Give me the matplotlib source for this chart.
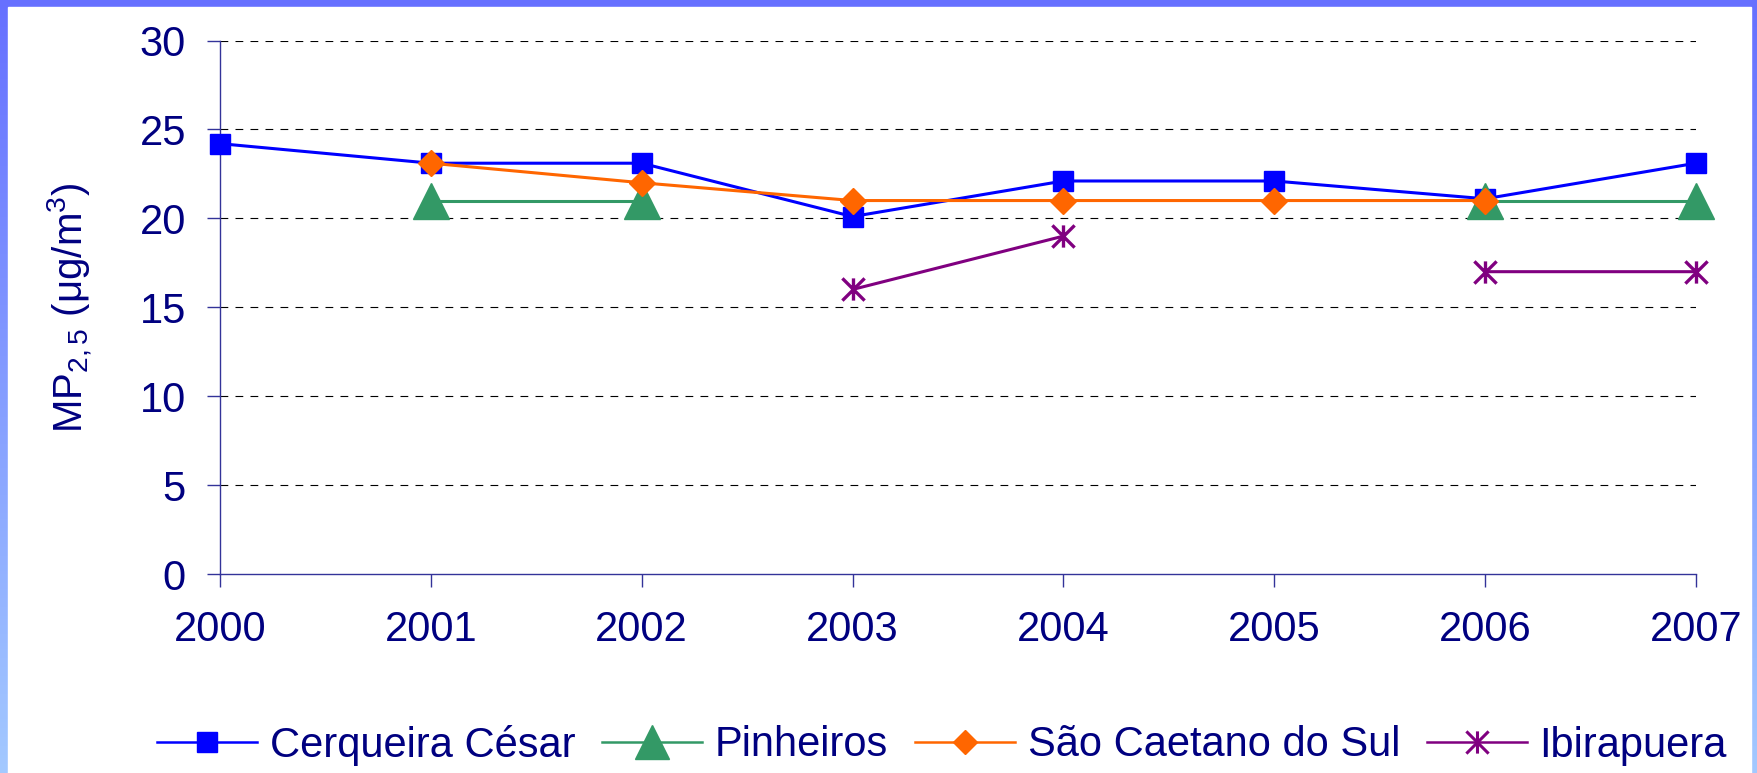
import numpy as np
import matplotlib
matplotlib.use("Agg")
import matplotlib.pyplot as plt
from matplotlib.colors import LinearSegmentedColormap
from matplotlib.patches import Rectangle
from matplotlib.path import Path
from matplotlib.lines import Line2D

plt.rcParams['font.family'] = ['Liberation Sans', 'DejaVu Sans']
plt.rcParams['mathtext.fontset'] = 'custom'
plt.rcParams['mathtext.rm'] = 'Liberation Sans'
plt.rcParams['mathtext.it'] = 'Liberation Sans'
plt.rcParams['mathtext.default'] = 'regular'

years = [2000, 2001, 2002, 2003, 2004, 2005, 2006, 2007]
nan = np.nan
cerqueira = [24.2, 23.1, 23.1, 20.1, 22.1, 22.1, 21.1, 23.1]
pinheiros = [nan, 21, 21, nan, nan, nan, 21, 21]
sao_caetano = [nan, 23.1, 22, 21, 21, 21, 21, nan]
ibirapuera = [nan, nan, nan, 16, 19, nan, 17, 17]
series_names = ["Cerqueira César", "Pinheiros", "São Caetano do Sul", "Ibirapuera"]
yticks = [0, 5, 10, 15, 20, 25, 30]

W, H = 1758, 773
fig = plt.figure(figsize=(W / 100, H / 100), dpi=100)

# background frame with gradient
bg = fig.add_axes([0, 0, 1, 1], zorder=-10)
cmap = LinearSegmentedColormap.from_list("frame", ["#6670FF", "#A3C9FF"])
grad = np.linspace(0, 1, 256).reshape(-1, 1)
bg.imshow(grad, aspect='auto', cmap=cmap, extent=[0, 1, 0, 1], origin='upper')
bg.add_patch(Rectangle((8 / W, 0), (1751 - 8) / W, 1 - 7 / H, color='white'))
bg.set_xlim(0, 1)
bg.set_ylim(0, 1)
bg.axis('off')

# Excel-style asterisk: vertical bar plus an X
star_path = Path([(0, -1), (0, 1), (-1, -1), (1, 1), (-1, 1), (1, -1)],
                 [Path.MOVETO, Path.LINETO, Path.MOVETO, Path.LINETO, Path.MOVETO, Path.LINETO])

navy = '#000080'
axcol = '#333399'
ax = fig.add_axes([220 / W, (H - 574) / H, (1696 - 220) / W, (574 - 40.5) / H])
ax.set_facecolor('none')

ax.set_xlim(2000, 2007)
ax.set_ylim(0, 30)
ax.set_yticks(yticks)
ax.set_xticks(years)
ax.set_xticklabels([str(y) for y in years])

for y in yticks[1:]:
    ax.axhline(y, color='black', lw=0.8, linestyle=(0, (7, 6.5)), zorder=1)

for s in ['top', 'right']:
    ax.spines[s].set_visible(False)
for s in ['left', 'bottom']:
    ax.spines[s].set_color(axcol)
    ax.spines[s].set_linewidth(1.0)

ax.tick_params(axis='both', colors=axcol, labelcolor=navy, labelsize=30, width=1.0)
ax.tick_params(axis='y', length=9.5, pad=15)
ax.tick_params(axis='x', length=9, pad=17)

lw = 2.2
ax.plot(years, cerqueira, color='#0000FF', lw=lw, marker='s', ms=14,
        clip_on=False, zorder=3)
ax.plot(years, pinheiros, color='#339966', lw=lw, marker='^', ms=26,
        clip_on=False, zorder=4)
ax.plot(years, sao_caetano, color='#FF6600', lw=lw, marker='D', ms=13,
        clip_on=False, zorder=5)
ax.plot(years, ibirapuera, color='#800080', lw=lw, marker=star_path, ms=16,
        mew=2.4, clip_on=False, zorder=6)

ax.set_ylabel(r'MP$_{2,5}$ ($\mu$g/m$^{3}$)', color=navy, fontsize=29)
ax.yaxis.set_label_coords(-0.085, 0.5)

handles = [
    Line2D([], [], color='#0000FF', lw=1.8, marker='s', ms=14),
    Line2D([], [], color='#339966', lw=1.8, marker='^', ms=24),
    Line2D([], [], color='#FF6600', lw=1.8, marker='D', ms=12),
    Line2D([], [], color='#800080', lw=1.8, marker=star_path, ms=16, mew=2.2),
]
leg = fig.legend(handles, series_names, loc='center', bbox_to_anchor=(942 / W, 28 / H),
                 ncol=4, frameon=False, fontsize=30, handlelength=2.4,
                 handletextpad=0.3, columnspacing=0.65, labelcolor=navy)

fig.savefig('out.png', dpi=100)
